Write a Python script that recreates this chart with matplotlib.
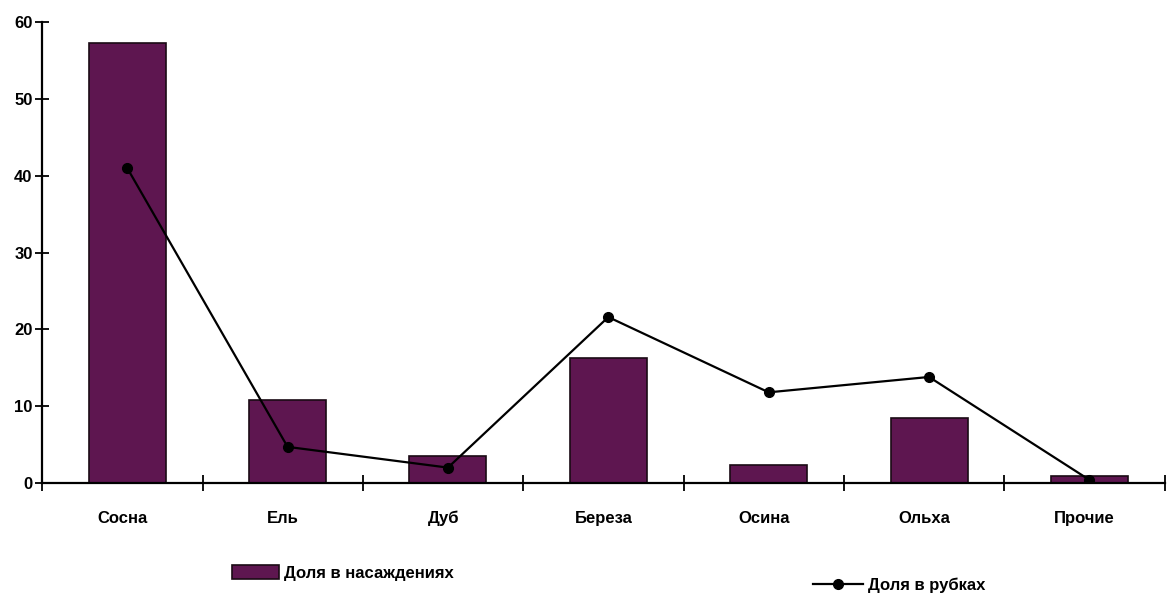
import numpy as np
import matplotlib
matplotlib.use("Agg")
import matplotlib.pyplot as plt

plt.rcParams['font.family'] = ['Liberation Sans', 'DejaVu Sans']

# данные
породы = ["Сосна", "Ель", "Дуб", "Береза", "Осина", "Ольха", "Прочие"]
доля_насаждения = [57.3, 10.8, 3.5, 16.3, 2.4, 8.5, 0.9]
доля_рубки = [41.0, 4.7, 2.0, 21.6, 11.8, 13.8, 0.4]
y_ticks = [0, 10, 20, 30, 40, 50, 60]

fig = plt.figure(figsize=(11.73, 5.97), dpi=100)
ax = fig.add_axes([0.036, 0.191, 0.957, 0.772])

x = np.arange(len(породы))
bars = ax.bar(x + 0.03, доля_насаждения, width=0.48, color='#5e1650',
              edgecolor='#1a0a14', linewidth=1.2, label="Доля в насаждениях",
              zorder=2)
line, = ax.plot(x + 0.03, доля_рубки, color='black', lw=1.6, marker='o', ms=7,
                label="Доля в рубках", zorder=3)

ax.set_xlim(-0.5, len(породы) - 0.5)
ax.set_ylim(0, 60)
ax.set_yticks(y_ticks)
ax.set_yticklabels([str(v) for v in y_ticks], fontsize=12, fontweight='bold')
ax.tick_params(axis='y', direction='inout', length=10, width=1.3, pad=2)

ax.set_xticks(x)
ax.set_xticklabels(породы, fontsize=12, fontweight='bold')
ax.tick_params(axis='x', which='major', length=0, pad=20)
ax.set_xticks(np.arange(-0.5, len(породы)), minor=True)
ax.tick_params(axis='x', which='minor', direction='inout', length=12, width=1.3)

for s in ['top', 'right']:
    ax.spines[s].set_visible(False)
for s in ['left', 'bottom']:
    ax.spines[s].set_linewidth(1.6)
    ax.spines[s].set_clip_on(False)

fig.legend(handles=[bars], loc='center left', bbox_to_anchor=(0.185, 0.04),
           frameon=False, prop={'weight': 'bold', 'size': 12},
           handlelength=2.8, handleheight=0.9, handletextpad=0.3)
fig.legend(handles=[line], loc='center left', bbox_to_anchor=(0.68, 0.02),
           frameon=False, prop={'weight': 'bold', 'size': 12},
           handlelength=3.0, handletextpad=0.3)

fig.savefig("out.png", dpi=100)
